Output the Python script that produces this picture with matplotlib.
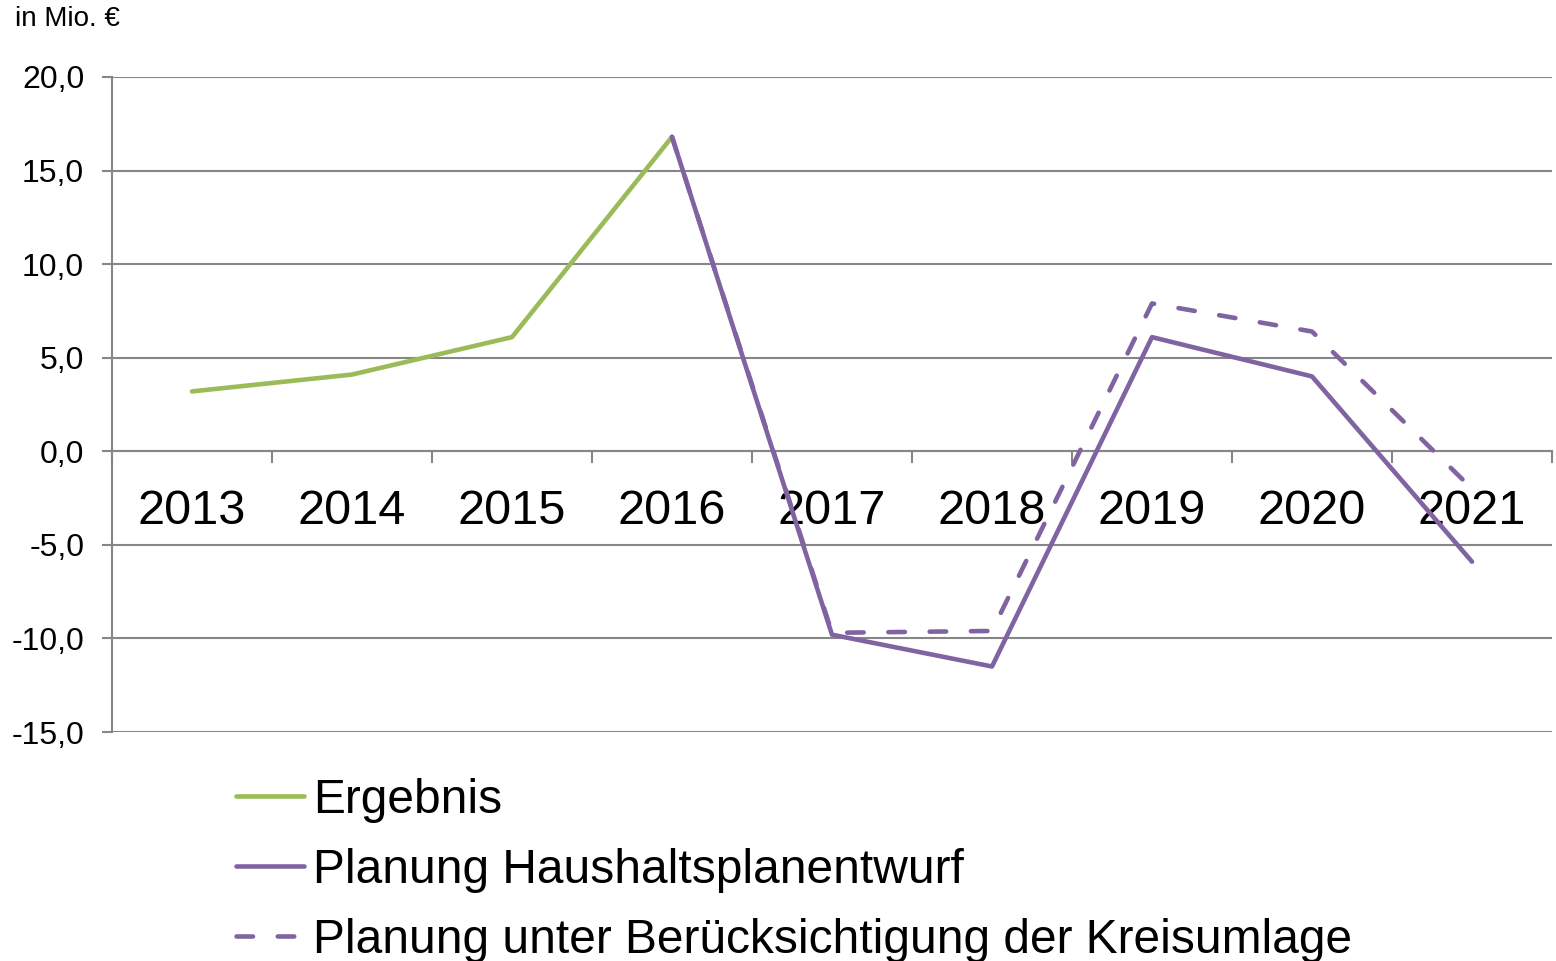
import matplotlib
matplotlib.use('Agg')
import matplotlib.pyplot as plt
from matplotlib.ticker import FixedLocator

plt.rcParams['font.family'] = ['Liberation Sans', 'DejaVu Sans']

years = ['2013', '2014', '2015', '2016', '2017', '2018', '2019', '2020', '2021']
ergebnis = [3.2, 4.1, 6.1, 16.8]
planung = [16.8, -9.8, -11.5, 6.1, 4.0, -5.9]
kreisumlage = [16.8, -9.7, -9.6, 7.9, 6.4, -2.0]
yticks = [-15, -10, -5, 0, 5, 10, 15, 20]
ylabels = ['-15,0', '-10,0', '-5,0', '0,0', '5,0', '10,0', '15,0', '20,0']

green = '#9BBB59'
purple = '#8064A2'
grey = '#868686'

fig = plt.figure(figsize=(15.56, 9.61), dpi=100)
ax = fig.add_axes([112 / 1556, 1 - 732 / 961, 1440 / 1556, 655 / 961])

x = list(range(len(years)))
ax.plot(x[:4], ergebnis, color=green, lw=3.3, solid_capstyle='round', label='Ergebnis', zorder=3)
ax.plot(x[3:], planung, color=purple, lw=3.3, solid_capstyle='round',
        label='Planung Haushaltsplanentwurf', zorder=4)
l3, = ax.plot(x[3:], kreisumlage, color=purple, lw=3.3, dash_capstyle='round',
              label='Planung unter Berücksichtigung der Kreisumlage', zorder=5)
l3.set_dashes([3.6, 5.4])

ax.set_xlim(-0.5, len(years) - 0.5)
ax.set_ylim(-15, 20)
ax.set_yticks(yticks)
ax.set_yticklabels(ylabels, fontsize=23)
ax.yaxis.grid(True, color=grey, lw=1.5)
ax.set_axisbelow(True)

# x axis sits on the zero line, labels centred between boundary ticks
ax.spines['bottom'].set_position(('data', 0))
ax.spines['bottom'].set_color(grey)
ax.spines['bottom'].set_linewidth(1.5)
ax.spines['left'].set_color(grey)
ax.spines['left'].set_linewidth(1.5)
for s in ['top', 'right']:
    ax.spines[s].set_visible(False)

ax.xaxis.set_major_locator(FixedLocator([i - 0.5 for i in range(len(years) + 1)]))
ax.xaxis.set_minor_locator(FixedLocator(x))
ax.set_xticklabels([''] * (len(years) + 1))
ax.set_xticklabels(years, minor=True, fontsize=35)
ax.tick_params(axis='x', which='major', direction='out', length=8.6, width=1.5, color=grey)
ax.tick_params(axis='x', which='minor', length=0, pad=27)
ax.tick_params(axis='y', direction='out', length=7, width=1.5, color=grey, pad=13)

fig.text(15 / 1556, 1 - 19 / 961, 'in Mio. €', fontsize=20, va='center', ha='left')

fig.legend(loc='upper left', bbox_to_anchor=(236 / 1556, 1 - 778 / 961), frameon=False,
           fontsize=34.5, handlelength=1.42, handletextpad=0.19, labelspacing=0.52,
           borderpad=0, borderaxespad=0)

fig.savefig('out.png', dpi=100)
